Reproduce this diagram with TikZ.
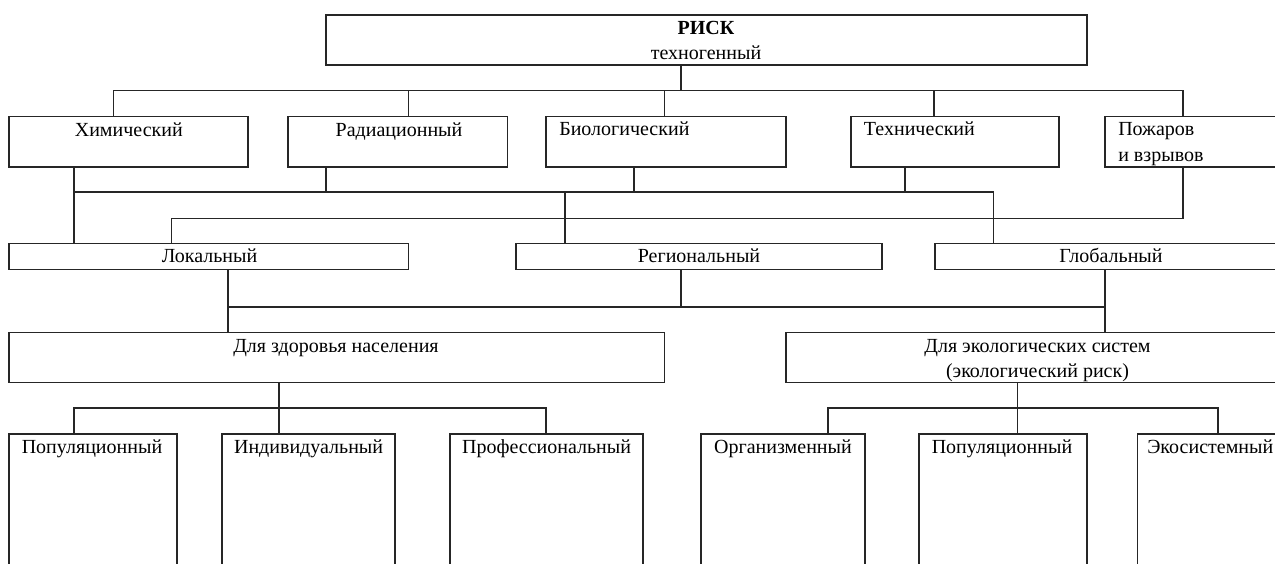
\documentclass[tikz,border=0pt]{standalone}
\usepackage{fontspec}
\setmainfont{Liberation Serif}
\usetikzlibrary{fit}
\begin{document}
\begin{tikzpicture}[x=0.75pt,y=-0.75pt,
  box/.style={draw=black!85, line width=1.2pt, inner sep=0pt, rectangle},
  wire/.style={draw=black!85, line width=1.2pt},
  lbl/.style={inner sep=0pt, anchor=base, font=\fontsize{15}{18}\selectfont},
  lbll/.style={lbl, anchor=base west}]
% page frame; boxes on the right and bottom run off the page
\path[use as bounding box, clip] (0,0) rectangle (1275,564);

% ---- top level
\node[box, fit={(325.7,15) (1087,65)}] (risk) {};
\node[lbl, font=\fontsize{15}{18}\selectfont\bfseries] (riskt) at (706,34) {РИСК};
\node[lbl] (riskk) at (706,59) {техногенный};

% ---- kinds of hazard
\node[box, fit={(9,116.5) (248,166.7)}] (chem) {};
\node[box, fit={(287.8,116.5) (507.3,166.7)}] (rad) {};
\node[box, fit={(546,116.5) (786,166.7)}] (bio) {};
\node[box, fit={(851,116.5) (1059,166.7)}] (techn) {};
\node[box, fit={(1105,116.5) (1300,166.7)}] (fire) {};
\node[lbl] (chemt) at (128.8,136) {Химический};
\node[lbl] (radt) at (399,136) {Радиационный};
\node[lbll] (biot) at (559,135.5) {Биологический};
\node[lbll] (techt) at (863.7,135.5) {Технический};
\node[lbll] (firet1) at (1118,135) {Пожаров};
\node[lbll] (firet2) at (1118,161) {и взрывов};

% ---- scale
\node[box, fit={(9,243.3) (408.6,269.3)}] (loc) {};
\node[box, fit={(516,243.3) (882,269.3)}] (reg) {};
\node[box, fit={(934.7,243.3) (1300,269.3)}] (glob) {};
\node[lbl] (loct) at (209.6,262) {Локальный};
\node[lbl] (regt) at (699,262) {Региональный};
\node[lbl] (globt) at (1111,262) {Глобальный};

% ---- object at risk
\node[box, fit={(9,332.3) (664.5,382.3)}] (health) {};
\node[box, fit={(786,332.3) (1300,382.3)}] (eco) {};
\node[lbl] (healtht) at (336,352) {Для здоровья населения};
\node[lbl] (ecot1) at (1037.5,352) {Для экологических систем};
\node[lbl] (ecot2) at (1037.5,377) {(экологический риск)};

% ---- levels
\node[box, fit={(9,434) (176.7,600)}] (pop1) {};
\node[box, fit={(222,434) (395,600)}] (ind) {};
\node[box, fit={(449.8,434) (643,600)}] (prof) {};
\node[box, fit={(701,434) (865,600)}] (org) {};
\node[box, fit={(919,434) (1087,600)}] (pop2) {};
\node[box, fit={(1137.5,434) (1300,600)}] (ecs) {};
\node[lbl] (pop1t) at (92,453) {Популяционный};
\node[lbl] (indt) at (308.6,453) {Индивидуальный};
\node[lbl] (proft) at (546.6,453) {Профессиональный};
\node[lbl] (orgt) at (783,453) {Организменный};
\node[lbl] (pop2t) at (1002,453) {Популяционный};
\node[lbll] (ecst) at (1147,453) {Экосистемный};

% ---- junction points of the connector buses
\coordinate (b1r) at (681,90.5);
\coordinate (b1a) at (113.5,90.5);
\coordinate (b1b) at (408.6,90.5);
\coordinate (b1c) at (664.5,90.5);
\coordinate (b1d) at (934,90.5);
\coordinate (b1e) at (1183,90.5);

\coordinate (b2a) at (73.9,192);
\coordinate (b2b) at (325.7,192);
\coordinate (b2m) at (565,192);
\coordinate (b2c) at (634,192);
\coordinate (b2d) at (905,192);
\coordinate (b2e) at (993.5,192);

\coordinate (f1) at (1183,218.3);
\coordinate (f2) at (171.4,218.3);

\coordinate (b3a) at (227.8,306.7);
\coordinate (b3b) at (681,306.7);
\coordinate (b3c) at (1105,306.7);

\coordinate (b4a) at (73.9,407.7);
\coordinate (b4b) at (278.8,407.7);
\coordinate (b4c) at (546,407.7);
\coordinate (b4d) at (827.8,407.7);
\coordinate (b4e) at (1017.6,407.7);
\coordinate (b4f) at (1218,407.7);

% ---- connectors
\draw[wire] (b1r |- risk.south) -- (b1r);
\draw[wire] (b1a |- chem.north) -- (b1a) -- (b1e) -- (b1e |- fire.north);
\draw[wire] (b1b) -- (b1b |- rad.north);
\draw[wire] (b1c) -- (b1c |- bio.north);
\draw[wire] (b1d) -- (b1d |- techn.north);

\draw[wire] (b2a |- chem.south) -- (b2a |- loc.north);
\draw[wire] (b2a) -- (b2e) -- (b2e |- glob.north);
\draw[wire] (b2b |- rad.south) -- (b2b);
\draw[wire] (b2c |- bio.south) -- (b2c);
\draw[wire] (b2d |- techn.south) -- (b2d);
\draw[wire] (b2m) -- (b2m |- reg.north);
\draw[wire] (f1 |- fire.south) -- (f1) -- (f2) -- (f2 |- loc.north);

\draw[wire] (b3a |- loc.south) -- (b3a |- health.north);
\draw[wire] (b3a) -- (b3c);
\draw[wire] (b3b |- reg.south) -- (b3b);
\draw[wire] (b3c |- glob.south) -- (b3c |- eco.north);

\draw[wire] (b4a |- pop1.north) -- (b4a) -- (b4c) -- (b4c |- prof.north);
\draw[wire] (b4b |- health.south) -- (b4b |- ind.north);
\draw[wire] (b4d |- org.north) -- (b4d) -- (b4f) -- (b4f |- ecs.north);
\draw[wire] (b4e |- eco.south) -- (b4e |- pop2.north);
\end{tikzpicture}
\end{document}
